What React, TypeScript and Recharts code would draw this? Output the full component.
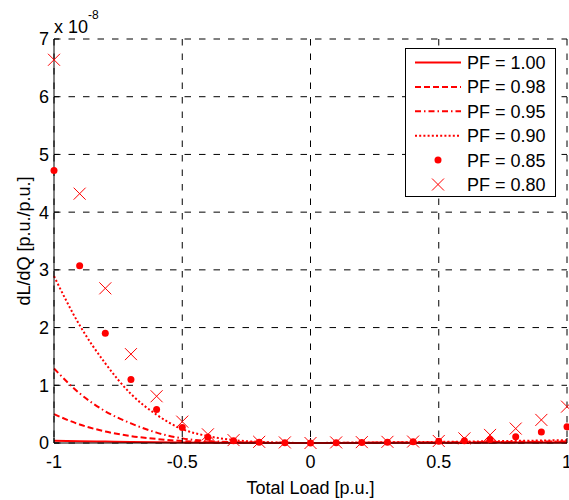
import { CartesianGrid, ComposedChart, Legend, Line, XAxis, YAxis } from 'recharts'

// dL/dQ sensitivity (units of 1e-8 p.u./p.u.) against total load, one series per power factor
const loadPoints = [-1, -0.9, -0.8, -0.7, -0.6, -0.5, -0.4, -0.3, -0.2, -0.1, 0, 0.1, 0.2, 0.3, 0.4, 0.5, 0.6, 0.7, 0.8, 0.9, 1]

const pf100 = [0.04, 0.03, 0.024, 0.018, 0.013, 0.009, 0.006, 0.004, 0.002, 0.001, 0, 0.001, 0.002, 0.003, 0.004, 0.005, 0.006, 0.007, 0.008, 0.009, 0.01]
const pf098 = [0.5, 0.32, 0.2, 0.12, 0.07, 0.035, 0.015, 0.007, 0.003, 0.001, 0, 0.001, 0.002, 0.003, 0.004, 0.005, 0.006, 0.008, 0.01, 0.012, 0.014]
const pf095 = [1.29, 0.86, 0.55, 0.34, 0.18, 0.08, 0.035, 0.015, 0.006, 0.002, 0, 0.002, 0.004, 0.006, 0.008, 0.01, 0.013, 0.016, 0.02, 0.024, 0.028]
const pf090 = [2.89, 2.04, 1.38, 0.85, 0.49, 0.24, 0.12, 0.05, 0.02, 0.005, 0, 0.004, 0.008, 0.012, 0.016, 0.02, 0.025, 0.03, 0.036, 0.043, 0.05]
const pf085 = [4.72, 3.07, 1.9, 1.1, 0.58, 0.27, 0.1, 0.04, 0.015, 0.005, 0, 0.005, 0.01, 0.015, 0.02, 0.03, 0.04, 0.06, 0.11, 0.19, 0.28]
const pf080 = [6.64, 4.32, 2.68, 1.54, 0.81, 0.37, 0.15, 0.05, 0.02, 0.01, 0, 0.01, 0.015, 0.02, 0.025, 0.035, 0.08, 0.14, 0.25, 0.4, 0.63]

const xTicks = [-1, -0.5, 0, 0.5, 1]
const yTicks = [0, 1, 2, 3, 4, 5, 6, 7]

const legendLabels = ['PF = 1.00', 'PF = 0.98', 'PF = 0.95', 'PF = 0.90', 'PF = 0.85', 'PF = 0.80']

const chartData = loadPoints.map((load, i) => ({
    load,
    pf100: pf100[i],
    pf098: pf098[i],
    pf095: pf095[i],
    pf090: pf090[i],
    pf085: pf085[i],
    pf080: pf080[i],
}))

const RED = '#ff0000'
const FONT = '"Liberation Sans", Arial, Helvetica, sans-serif'

const lineStyles = [
    { key: 'pf100', dash: undefined },
    { key: 'pf098', dash: '6 3' },
    { key: 'pf095', dash: '6 3 1.5 3' },
    { key: 'pf090', dash: '2 2.2' },
]

const DotMarker = (props: any) => {
    const { cx, cy, index } = props
    if (cx == null || cy == null) return <g key={`dot-${index}`} />
    return <circle key={`dot-${index}`} cx={cx} cy={cy} r={3.5} fill={RED} />
}

const CrossMarker = (props: any) => {
    const { cx, cy, index } = props
    if (cx == null || cy == null) return <g key={`cross-${index}`} />
    const s = 6
    return (
        <path
            key={`cross-${index}`}
            d={`M${cx - s},${cy - s}L${cx + s},${cy + s}M${cx - s},${cy + s}L${cx + s},${cy - s}`}
            stroke={RED}
            strokeWidth={1}
            fill={'none'}
        />
    )
}

const renderLegend = () => {
    const rowY = (i: number) => 14.5 + i * 24.4
    return (
        <svg width={151} height={149} style={{ display: 'block' }}>
            <rect x={0.5} y={0.5} width={150} height={148} fill={'#fff'} stroke={'#000'} strokeWidth={1} />
            {legendLabels.map((label, i) => {
                const y = rowY(i)
                let sample
                if (i < 4) {
                    sample = (
                        <line
                            x1={10}
                            x2={56}
                            y1={y}
                            y2={y}
                            stroke={RED}
                            strokeWidth={2}
                            strokeDasharray={lineStyles[i].dash}
                        />
                    )
                } else if (i === 4) {
                    sample = <circle cx={33} cy={y} r={3.5} fill={RED} />
                } else {
                    sample = (
                        <path d={`M27,${y - 6}L39,${y + 6}M27,${y + 6}L39,${y - 6}`} stroke={RED} strokeWidth={1} />
                    )
                }
                return (
                    <g key={label}>
                        {sample}
                        <text x={62} y={y + 6.4} fontSize={18} fontFamily={FONT} fill={'#000'}>
                            {label}
                        </text>
                    </g>
                )
            })}
        </svg>
    )
}

const renderYTitle = () => {
    const cx = 30
    const cy = 241
    return (
        <g>
            <text
                x={cx}
                y={cy}
                transform={`rotate(-90 ${cx} ${cy})`}
                textAnchor={'middle'}
                fontSize={18}
                fontFamily={FONT}
                fill={'#000'}
            >
                dL/dQ [p.u./p.u.]
            </text>
            <text x={54} y={33} fontSize={18} fontFamily={FONT} fill={'#000'}>
                x 10
            </text>
            <text x={88} y={19} fontSize={12} fontFamily={FONT} fill={'#000'}>
                -8
            </text>
        </g>
    )
}

const renderXTitle = () => (
    <text x={310.5} y={494} textAnchor={'middle'} fontSize={18} fontFamily={FONT} fill={'#000'}>
        Total Load [p.u.]
    </text>
)

const tickStyle = { fontSize: 18, fill: '#000', fontFamily: FONT }

const App = () => {
    return (
        <div style={{ position: 'absolute', left: 0, top: 0, width: 569, height: 500, background: '#fff' }}>
            <ComposedChart
                width={569}
                height={500}
                data={chartData}
                margin={{ top: 39, right: 2, bottom: 27, left: 14 }}
                style={{ fontFamily: FONT }}
            >
                <CartesianGrid stroke={'#000'} strokeDasharray={'6.5 8'} strokeWidth={1} />
                <XAxis
                    dataKey={'load'}
                    type={'number'}
                    domain={[-1, 1]}
                    ticks={xTicks}
                    height={30}
                    stroke={'#000'}
                    tickSize={-5}
                    tickMargin={17}
                    tick={tickStyle}
                    interval={0}
                    label={{ content: renderXTitle }}
                />
                <XAxis
                    xAxisId={'top'}
                    dataKey={'load'}
                    type={'number'}
                    orientation={'top'}
                    domain={[-1, 1]}
                    ticks={xTicks}
                    height={0}
                    stroke={'#000'}
                    tickSize={-5}
                    tick={false}
                    interval={0}
                />
                <YAxis
                    type={'number'}
                    domain={[0, 7]}
                    ticks={yTicks}
                    width={40}
                    stroke={'#000'}
                    tickSize={-5}
                    tickMargin={10}
                    tick={tickStyle}
                    interval={0}
                    label={{ content: renderYTitle }}
                />
                <YAxis
                    yAxisId={'right'}
                    type={'number'}
                    orientation={'right'}
                    domain={[0, 7]}
                    ticks={yTicks}
                    width={0}
                    stroke={'#000'}
                    tickSize={-5}
                    tick={false}
                    interval={0}
                />
                {lineStyles.map(s => (
                    <Line
                        key={s.key}
                        dataKey={s.key}
                        type={'monotone'}
                        stroke={RED}
                        strokeWidth={2}
                        strokeDasharray={s.dash}
                        dot={false}
                        activeDot={false}
                        isAnimationActive={false}
                    />
                ))}
                <Line
                    dataKey={'pf085'}
                    stroke={'none'}
                    dot={DotMarker}
                    activeDot={false}
                    isAnimationActive={false}
                />
                <Line
                    dataKey={'pf080'}
                    stroke={'none'}
                    dot={CrossMarker}
                    activeDot={false}
                    isAnimationActive={false}
                />
                <Legend
                    layout={'vertical'}
                    align={'center'}
                    verticalAlign={'middle'}
                    wrapperStyle={{ left: 405, top: 48, width: 151, height: 149 }}
                    content={renderLegend}
                />
            </ComposedChart>
        </div>
    )
}

export default App
